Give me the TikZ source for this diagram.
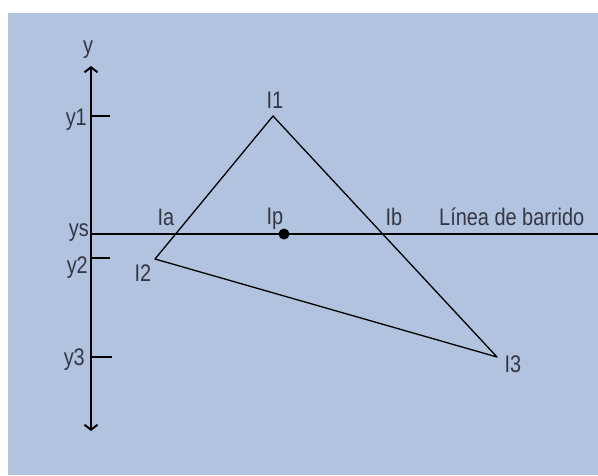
\documentclass[tikz,border=0pt]{standalone}
\usepackage{fontspec}
\setmainfont{Liberation Sans}[FakeStretch=0.83]
\usetikzlibrary{arrows.meta}
\definecolor{bgblue}{RGB}{177,195,222}
\definecolor{txtgray}{RGB}{52,54,68}

\begin{document}
\begin{tikzpicture}[x=1pt,y=-1pt,
    lbl/.style={text=txtgray,font=\fontsize{24}{28}\selectfont,inner sep=0pt,anchor=base},
    axlbl/.style={lbl,anchor=base east},
    edge/.style={line width=1.3pt,line join=round},
    ax/.style={line width=2pt}]
  % --- background
  \useasboundingbox (0,0) rectangle (598,475);
  \fill[bgblue] (8,13) rectangle (598,475);
  % --- y axis
  \coordinate (ytop) at (91,66);
  \coordinate (ybot) at (91,431);
  \draw[ax,{Straight Barb[length=5pt,width=13pt]}-{Straight Barb[length=5pt,width=13pt]}] (ybot) -- (ytop);
  \node[lbl] (ylbl) at (88,53) {y};
  % --- ticks y1, y2, y3
  \foreach \n/\yy/\ly/\lx/\ex in {1/116/125/87/110, 2/258/273/88/110, 3/357/365/85/112} {
    \coordinate (t\n) at (91,\yy);
    \coordinate (te\n) at (\ex,\yy);
    \draw[ax] (t\n) -- (te\n);
    \node[axlbl] (ly\n) at (\lx,\ly) {y\n};
  }
  % --- scan line
  \coordinate (s0) at (90,234);
  \coordinate (s1) at (598,234);
  \draw[ax] (s0) -- (s1);
  \node[axlbl] (lys) at (89,236) {ys};
  \node[lbl,anchor=base west] (lbar) at (439,225) {Línea de barrido};
  % --- triangle
  \coordinate (I1) at (273,116);
  \coordinate (I2) at (155,259);
  \coordinate (I3) at (497,357);
  \draw[edge] (I1) -- (I2) -- (I3) -- cycle;
  \coordinate (Ia) at (intersection of I1--I2 and s0--s1);
  \coordinate (Ib) at (intersection of I1--I3 and s0--s1);
  \node[circle,fill=black,inner sep=0pt,minimum size=11pt] (Ip) at (284,234) {};
  % --- labels
  \node[lbl] (lI1) at (275,108) {I1};
  \node[lbl] (lI2) at (143,281) {I2};
  \node[lbl] (lI3) at (513,372) {I3};
  \node[lbl] (lIa) at (166,225) {Ia};
  \node[lbl] (lIp) at (275,224) {Ip};
  \node[lbl] (lIb) at (394,225) {Ib};
\end{tikzpicture}
\end{document}
